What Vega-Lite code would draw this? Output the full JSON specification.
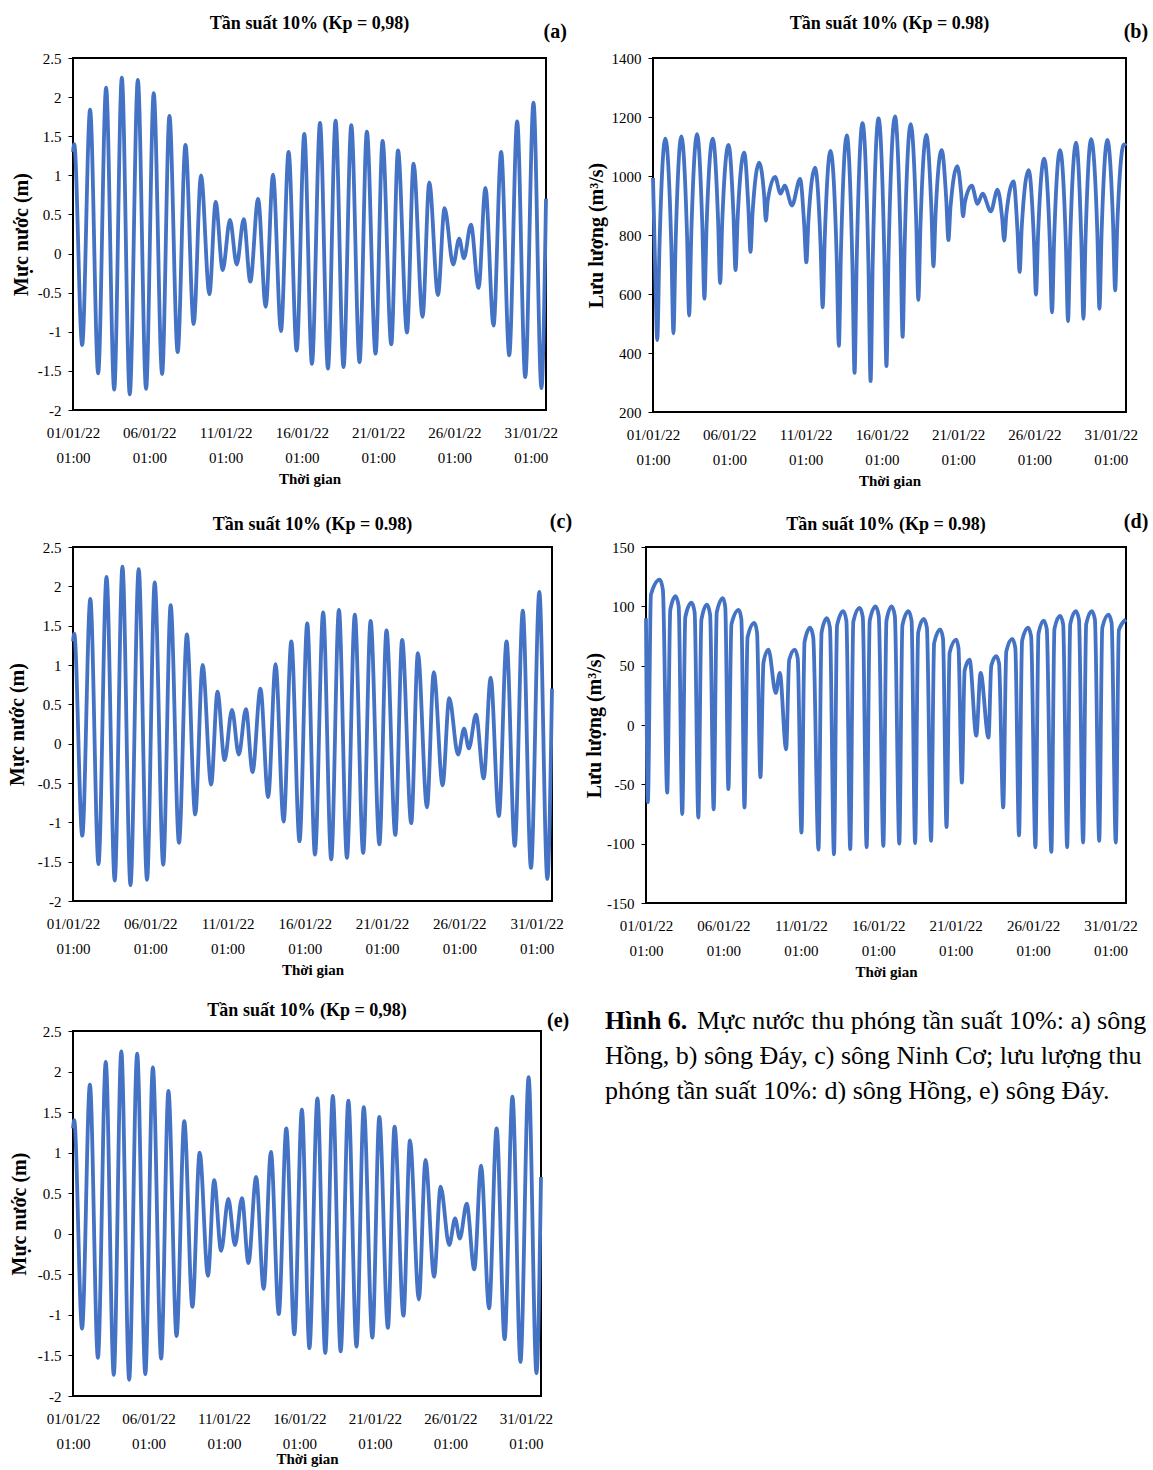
{
  "$schema": "https://vega.github.io/schema/vega-lite/v6.json",
  "background": "white",
  "padding": {"left": 6, "top": 14, "right": 0, "bottom": 0},
  "spacing": 21,
  "datasets": {
    "wl": [{"d":0,"v":1.30},{"d":0.08,"v":1.40},{"d":0.60,"v":-1.17},{"d":1.12,"v":1.84},{"d":1.65,"v":-1.53},{"d":2.17,"v":2.12},{"d":2.70,"v":-1.74},{"d":3.20,"v":2.25},{"d":3.72,"v":-1.80},{"d":4.25,"v":2.22},{"d":4.79,"v":-1.73},{"d":5.29,"v":2.05},{"d":5.84,"v":-1.54},{"d":6.32,"v":1.76},{"d":6.86,"v":-1.26},{"d":7.37,"v":1.39},{"d":7.91,"v":-0.90},{"d":8.39,"v":1.00},{"d":8.94,"v":-0.52},{"d":9.35,"v":0.66},{"d":9.81,"v":-0.21},{"d":10.29,"v":0.43},{"d":10.73,"v":-0.14},{"d":11.19,"v":0.44},{"d":11.62,"v":-0.36},{"d":12.13,"v":0.70},{"d":12.63,"v":-0.68},{"d":13.11,"v":1.01},{"d":13.63,"v":-0.99},{"d":14.13,"v":1.30},{"d":14.66,"v":-1.24},{"d":15.16,"v":1.53},{"d":15.66,"v":-1.41},{"d":16.19,"v":1.67},{"d":16.71,"v":-1.47},{"d":17.21,"v":1.70},{"d":17.73,"v":-1.45},{"d":18.24,"v":1.64},{"d":18.78,"v":-1.39},{"d":19.26,"v":1.56},{"d":19.83,"v":-1.28},{"d":20.29,"v":1.44},{"d":20.86,"v":-1.16},{"d":21.30,"v":1.32},{"d":21.89,"v":-1.01},{"d":22.32,"v":1.15},{"d":22.91,"v":-0.81},{"d":23.35,"v":0.91},{"d":23.92,"v":-0.53},{"d":24.35,"v":0.58},{"d":24.92,"v":-0.14},{"d":25.31,"v":0.19},{"d":25.62,"v":-0.06},{"d":26.08,"v":0.37},{"d":26.58,"v":-0.44},{"d":27.03,"v":0.84},{"d":27.56,"v":-0.92},{"d":28.06,"v":1.30},{"d":28.59,"v":-1.30},{"d":29.11,"v":1.69},{"d":29.64,"v":-1.58},{"d":30.18,"v":1.93},{"d":30.70,"v":-1.72},{"d":31.0,"v":0.70}],
    "qd": [{"d":0,"v":993},{"d":0.14,"v":691},{"d":0.28,"v":444},{"d":0.42,"v":751},{"d":0.81,"v":1127},{"d":1.20,"v":764},{"d":1.34,"v":467},{"d":1.48,"v":767},{"d":1.86,"v":1134},{"d":2.23,"v":800},{"d":2.37,"v":527},{"d":2.51,"v":804},{"d":2.89,"v":1142},{"d":3.23,"v":835},{"d":3.37,"v":584},{"d":3.51,"v":828},{"d":3.92,"v":1127},{"d":4.26,"v":858},{"d":4.40,"v":637},{"d":4.54,"v":848},{"d":4.95,"v":1105},{"d":5.27,"v":872},{"d":5.41,"v":681},{"d":5.55,"v":860},{"d":5.98,"v":1079},{"d":6.25,"v":894},{"d":6.39,"v":743},{"d":6.53,"v":879},{"d":6.96,"v":1045},{"d":7.28,"v":937},{"d":7.40,"v":849},{"d":7.52,"v":916},{"d":8.00,"v":997},{"d":8.36,"v":940},{"d":8.63,"v":967},{"d":9.11,"v":900},{"d":9.64,"v":990},{"d":9.91,"v":834},{"d":10.05,"v":707},{"d":10.19,"v":851},{"d":10.62,"v":1028},{"d":10.98,"v":768},{"d":11.12,"v":555},{"d":11.26,"v":794},{"d":11.63,"v":1085},{"d":12.04,"v":721},{"d":12.18,"v":424},{"d":12.32,"v":745},{"d":12.70,"v":1138},{"d":13.07,"v":695},{"d":13.21,"v":333},{"d":13.35,"v":714},{"d":13.73,"v":1179},{"d":14.12,"v":698},{"d":14.26,"v":305},{"d":14.40,"v":706},{"d":14.78,"v":1195},{"d":15.16,"v":734},{"d":15.30,"v":356},{"d":15.44,"v":737},{"d":15.86,"v":1202},{"d":16.22,"v":791},{"d":16.36,"v":455},{"d":16.50,"v":779},{"d":16.89,"v":1176},{"d":17.25,"v":848},{"d":17.39,"v":580},{"d":17.53,"v":832},{"d":17.92,"v":1139},{"d":18.24,"v":894},{"d":18.38,"v":694},{"d":18.52,"v":871},{"d":18.92,"v":1088},{"d":19.22,"v":920},{"d":19.36,"v":783},{"d":19.50,"v":896},{"d":19.95,"v":1033},{"d":20.20,"v":940},{"d":20.32,"v":863},{"d":20.44,"v":910},{"d":20.89,"v":967},{"d":21.27,"v":906},{"d":21.60,"v":940},{"d":22.14,"v":880},{"d":22.58,"v":954},{"d":22.88,"v":859},{"d":23.02,"v":781},{"d":23.16,"v":871},{"d":23.63,"v":982},{"d":23.89,"v":813},{"d":24.03,"v":675},{"d":24.17,"v":830},{"d":24.62,"v":1020},{"d":24.96,"v":788},{"d":25.10,"v":598},{"d":25.24,"v":805},{"d":25.64,"v":1059},{"d":26.01,"v":772},{"d":26.15,"v":538},{"d":26.29,"v":786},{"d":26.68,"v":1088},{"d":27.06,"v":769},{"d":27.20,"v":508},{"d":27.34,"v":780},{"d":27.73,"v":1113},{"d":28.07,"v":785},{"d":28.21,"v":516},{"d":28.35,"v":790},{"d":28.71,"v":1125},{"d":29.12,"v":809},{"d":29.26,"v":550},{"d":29.40,"v":807},{"d":29.78,"v":1122},{"d":30.15,"v":842},{"d":30.29,"v":612},{"d":30.43,"v":835},{"d":30.86,"v":1107},{"d":31.0,"v":1102}],
    "qh": [{"d":0,"v":90},{"d":0.12,"v":-65},{"d":0.32,"v":110},{"d":0.89,"v":122.5},{"d":1.09,"v":114},{"d":1.37,"v":-57},{"d":1.57,"v":97},{"d":1.91,"v":108.5},{"d":2.11,"v":100},{"d":2.34,"v":-75},{"d":2.54,"v":91},{"d":2.94,"v":103},{"d":3.14,"v":95},{"d":3.38,"v":-78},{"d":3.58,"v":89},{"d":3.94,"v":101.5},{"d":4.14,"v":93},{"d":4.37,"v":-71},{"d":4.57,"v":95},{"d":4.97,"v":107},{"d":5.12,"v":99},{"d":5.32,"v":-54},{"d":5.52,"v":85},{"d":5.99,"v":97},{"d":6.16,"v":89},{"d":6.36,"v":-69.5},{"d":6.56,"v":74},{"d":7.00,"v":86},{"d":7.17,"v":78},{"d":7.39,"v":-44},{"d":7.59,"v":53},{"d":7.91,"v":63.6},{"d":8.38,"v":27},{"d":8.64,"v":44},{"d":9.05,"v":-20.5},{"d":9.25,"v":55},{"d":9.61,"v":63.6},{"d":9.80,"v":56},{"d":10.04,"v":-90.6},{"d":10.24,"v":70},{"d":10.60,"v":82},{"d":10.80,"v":74},{"d":11.14,"v":-105},{"d":11.34,"v":78},{"d":11.68,"v":90},{"d":11.88,"v":82},{"d":12.14,"v":-109},{"d":12.34,"v":84},{"d":12.74,"v":96},{"d":12.94,"v":88},{"d":13.19,"v":-104.6},{"d":13.39,"v":87},{"d":13.80,"v":98.7},{"d":14.00,"v":91},{"d":14.25,"v":-103},{"d":14.45,"v":88},{"d":14.83,"v":100},{"d":15.03,"v":92},{"d":15.33,"v":-102},{"d":15.53,"v":88},{"d":15.87,"v":100},{"d":16.07,"v":92},{"d":16.36,"v":-100},{"d":16.56,"v":84},{"d":16.95,"v":96},{"d":17.15,"v":88},{"d":17.38,"v":-99.5},{"d":17.58,"v":78},{"d":17.94,"v":89.4},{"d":18.14,"v":82},{"d":18.41,"v":-97.6},{"d":18.61,"v":69},{"d":19.00,"v":80.5},{"d":19.18,"v":73},{"d":19.41,"v":-86},{"d":19.61,"v":61},{"d":20.03,"v":72},{"d":20.18,"v":65},{"d":20.40,"v":-48.5},{"d":20.58,"v":46},{"d":20.90,"v":55},{"d":21.33,"v":-9},{"d":21.61,"v":44},{"d":22.12,"v":-10.7},{"d":22.30,"v":50},{"d":22.62,"v":58},{"d":22.80,"v":52},{"d":23.07,"v":-69.5},{"d":23.27,"v":62},{"d":23.66,"v":72.6},{"d":23.85,"v":65},{"d":24.09,"v":-93},{"d":24.29,"v":71},{"d":24.67,"v":82},{"d":24.87,"v":75},{"d":25.15,"v":-103},{"d":25.35,"v":77},{"d":25.68,"v":88},{"d":25.88,"v":81},{"d":26.18,"v":-107},{"d":26.38,"v":81},{"d":26.74,"v":92},{"d":26.94,"v":85},{"d":27.20,"v":-103},{"d":27.40,"v":85},{"d":27.76,"v":96},{"d":27.96,"v":89},{"d":28.23,"v":-99},{"d":28.43,"v":85},{"d":28.79,"v":96},{"d":28.99,"v":89},{"d":29.27,"v":-97.6},{"d":29.47,"v":82},{"d":29.87,"v":93},{"d":30.07,"v":86},{"d":30.34,"v":-99},{"d":30.54,"v":80},{"d":31.0,"v":89}],
    "caption": [{"line":0,"part":"b","text":"Hình 6."},{"line":0,"part":"n0","text":"Mực nước thu phóng tần suất 10%: a) sông"},{"line":1,"part":"n","text":"Hồng, b) sông Đáy, c) sông Ninh Cơ; lưu lượng thu"},{"line":2,"part":"n","text":"phóng tần suất 10%: d) sông Hồng, e) sông Đáy."}]
  },
  "config": {
    "font": "Liberation Serif",
    "view": {"stroke": "black", "strokeWidth": 2},
    "title": {"font": "Liberation Serif", "fontSize": 18, "fontWeight": "bold", "color": "black", "anchor": "middle", "frame": "group"},
    "axis": {"labelFont": "Liberation Serif", "titleFont": "Liberation Serif", "labelColor": "black", "titleColor": "black", "labelFontSize": 15, "grid": false, "domain": false, "tickColor": "black", "labelOverlap": false},
    "axisX": {"ticks": false, "tickSize": 0, "labelPadding": 15, "labelLineHeight": 25, "titleFontSize": 15, "titleFontWeight": "bold", "titlePadding": 6, "labelFlush": false},
    "axisY": {"tickSize": 5, "labelPadding": 7, "titleFontSize": 20, "titleFontWeight": "bold", "titlePadding": 8},
    "text": {"font": "Liberation Serif", "color": "black"}
  },
  "vconcat": [
    {
      "spacing": 17,
      "hconcat": [
        {
          "width": 473, "height": 352,
          "title": {"text": "Tần suất 10% (Kp = 0,98)", "offset": -11},
          "layer": [
            {"data": {"name": "wl"}, "mark": {"type": "line", "interpolate": "monotone", "color": "#4472C4", "strokeWidth": 3.8},
             "encoding": {
               "x": {"field": "d", "type": "quantitative", "title": "Thời gian", "scale": {"domain": [0, 31], "nice": false, "zero": false}, "axis": {"values": [0,5,10,15,20,25,30], "labelExpr": "[timeFormat(datetime(2022, 0, 1 + datum.value, 1), '%d/%m/%y'), '01:00']"}},
               "y": {"field": "v", "type": "quantitative", "title": "Mực nước (m)", "scale": {"domain": [-2, 2.5], "nice": false, "zero": false}, "axis": {"values": [-2,-1.5,-1,-0.5,0,0.5,1,1.5,2,2.5], "labelExpr": "'' + datum.value", "labelOverlap": false, "titlePadding": 6}}
             }},
            {"data": {"values": [{"lab": "(a)"}]}, "mark": {"type": "text", "fontSize": 20, "fontWeight": "bold", "align": "center", "baseline": "middle"},
             "encoding": {
               "x": {"datum": 31.6, "type": "quantitative", "title": "Thời gian", "axis": {"values": [0,5,10,15,20,25,30], "labelExpr": "[timeFormat(datetime(2022, 0, 1 + datum.value, 1), '%d/%m/%y'), '01:00']"}},
               "y": {"datum": 2.83, "type": "quantitative", "title": "Mực nước (m)", "axis": {"values": [-2,-1.5,-1,-0.5,0,0.5,1,1.5,2,2.5], "labelExpr": "'' + datum.value", "labelOverlap": false, "titlePadding": 6}},
               "text": {"field": "lab"}}}
          ]
        },
        {
          "width": 473, "height": 354,
          "title": {"text": "Tần suất 10% (Kp = 0.98)", "offset": -11},
          "layer": [
            {"data": {"name": "qd"}, "mark": {"type": "line", "interpolate": "monotone", "color": "#4472C4", "strokeWidth": 3.8},
             "encoding": {
               "x": {"field": "d", "type": "quantitative", "title": "Thời gian", "scale": {"domain": [0, 31], "nice": false, "zero": false}, "axis": {"values": [0,5,10,15,20,25,30], "labelExpr": "[timeFormat(datetime(2022, 0, 1 + datum.value, 1), '%d/%m/%y'), '01:00']"}},
               "y": {"field": "v", "type": "quantitative", "title": "Lưu lượng (m³/s)", "scale": {"domain": [200, 1400], "nice": false, "zero": false}, "axis": {"values": [200,400,600,800,1000,1200,1400], "labelExpr": "'' + datum.value", "labelOverlap": false, "titlePadding": 5}}
             }},
            {"data": {"values": [{"lab": "(b)"}]}, "mark": {"type": "text", "fontSize": 20, "fontWeight": "bold", "align": "center", "baseline": "middle"},
             "encoding": {
               "x": {"datum": 31.65, "type": "quantitative", "title": "Thời gian", "axis": {"values": [0,5,10,15,20,25,30], "labelExpr": "[timeFormat(datetime(2022, 0, 1 + datum.value, 1), '%d/%m/%y'), '01:00']"}},
               "y": {"datum": 1488, "type": "quantitative", "title": "Lưu lượng (m³/s)", "axis": {"values": [200,400,600,800,1000,1200,1400], "labelExpr": "'' + datum.value", "labelOverlap": false, "titlePadding": 5}},
               "text": {"field": "lab"}}}
          ]
        }
      ]
    },
    {
      "spacing": 9,
      "hconcat": [
        {
          "width": 479, "height": 354,
          "title": {"text": "Tần suất 10% (Kp = 0.98)", "offset": -22},
          "layer": [
            {"data": {"name": "wl"}, "mark": {"type": "line", "interpolate": "monotone", "color": "#4472C4", "strokeWidth": 3.8},
             "encoding": {
               "x": {"field": "d", "type": "quantitative", "title": "Thời gian", "scale": {"domain": [0, 31], "nice": false, "zero": false}, "axis": {"values": [0,5,10,15,20,25,30], "labelExpr": "[timeFormat(datetime(2022, 0, 1 + datum.value, 1), '%d/%m/%y'), '01:00']"}},
               "y": {"field": "v", "type": "quantitative", "title": "Mực nước (m)", "scale": {"domain": [-2, 2.5], "nice": false, "zero": false}, "axis": {"values": [-2,-1.5,-1,-0.5,0,0.5,1,1.5,2,2.5], "labelExpr": "'' + datum.value", "labelOverlap": false, "titlePadding": 10}}
             }},
            {"data": {"values": [{"lab": "(c)"}]}, "mark": {"type": "text", "fontSize": 20, "fontWeight": "bold", "align": "center", "baseline": "middle"},
             "encoding": {
               "x": {"datum": 31.58, "type": "quantitative", "title": "Thời gian", "axis": {"values": [0,5,10,15,20,25,30], "labelExpr": "[timeFormat(datetime(2022, 0, 1 + datum.value, 1), '%d/%m/%y'), '01:00']"}},
               "y": {"datum": 2.82, "type": "quantitative", "title": "Mực nước (m)", "axis": {"values": [-2,-1.5,-1,-0.5,0,0.5,1,1.5,2,2.5], "labelExpr": "'' + datum.value", "labelOverlap": false, "titlePadding": 10}},
               "text": {"field": "lab"}}}
          ]
        },
        {
          "width": 480, "height": 356,
          "title": {"text": "Tần suất 10% (Kp = 0.98)", "offset": -22},
          "layer": [
            {"data": {"name": "qh"}, "mark": {"type": "line", "interpolate": "monotone", "color": "#4472C4", "strokeWidth": 3.8},
             "encoding": {
               "x": {"field": "d", "type": "quantitative", "title": "Thời gian", "scale": {"domain": [0, 31], "nice": false, "zero": false}, "axis": {"values": [0,5,10,15,20,25,30], "labelExpr": "[timeFormat(datetime(2022, 0, 1 + datum.value, 1), '%d/%m/%y'), '01:00']"}},
               "y": {"field": "v", "type": "quantitative", "title": "Lưu lượng (m³/s)", "scale": {"domain": [-150, 150], "nice": false, "zero": false}, "axis": {"values": [-150,-100,-50,0,50,100,150], "labelExpr": "'' + datum.value", "labelOverlap": false, "titlePadding": 2}}
             }},
            {"data": {"values": [{"lab": "(d)"}]}, "mark": {"type": "text", "fontSize": 20, "fontWeight": "bold", "align": "center", "baseline": "middle"},
             "encoding": {
               "x": {"datum": 31.65, "type": "quantitative", "title": "Thời gian", "axis": {"values": [0,5,10,15,20,25,30], "labelExpr": "[timeFormat(datetime(2022, 0, 1 + datum.value, 1), '%d/%m/%y'), '01:00']"}},
               "y": {"datum": 171, "type": "quantitative", "title": "Lưu lượng (m³/s)", "axis": {"values": [-150,-100,-50,0,50,100,150], "labelExpr": "'' + datum.value", "labelOverlap": false, "titlePadding": 2}},
               "text": {"field": "lab"}}}
          ]
        }
      ]
    },
    {
      "spacing": 34,
      "hconcat": [
        {
          "width": 468, "height": 365,
          "title": {"text": "Tần suất 10% (Kp = 0,98)", "offset": -9},
          "layer": [
            {"data": {"name": "wl"}, "mark": {"type": "line", "interpolate": "monotone", "color": "#4472C4", "strokeWidth": 3.8},
             "encoding": {
               "x": {"field": "d", "type": "quantitative", "title": "Thời gian", "scale": {"domain": [0, 31], "nice": false, "zero": false}, "axis": {"values": [0,5,10,15,20,25,30], "labelExpr": "[timeFormat(datetime(2022, 0, 1 + datum.value, 1), '%d/%m/%y'), '01:00']", "titlePadding": 0}},
               "y": {"field": "v", "type": "quantitative", "title": "Mực nước (m)", "scale": {"domain": [-2, 2.5], "nice": false, "zero": false}, "axis": {"values": [-2,-1.5,-1,-0.5,0,0.5,1,1.5,2,2.5], "labelExpr": "'' + datum.value", "labelOverlap": false, "titlePadding": 8}}
             }},
            {"data": {"values": [{"lab": "(e)"}]}, "mark": {"type": "text", "fontSize": 20, "fontWeight": "bold", "align": "center", "baseline": "middle"},
             "encoding": {
               "x": {"datum": 32.13, "type": "quantitative", "title": "Thời gian", "axis": {"values": [0,5,10,15,20,25,30], "labelExpr": "[timeFormat(datetime(2022, 0, 1 + datum.value, 1), '%d/%m/%y'), '01:00']", "titlePadding": 0}},
               "y": {"datum": 2.62, "type": "quantitative", "title": "Mực nước (m)", "axis": {"values": [-2,-1.5,-1,-0.5,0,0.5,1,1.5,2,2.5], "labelExpr": "'' + datum.value", "labelOverlap": false, "titlePadding": 8}},
               "text": {"field": "lab"}}}
          ]
        },
        {
          "width": 548, "height": 105,
          "view": {"stroke": null},
          "data": {"name": "caption"},
          "encoding": {
            "x": {"datum": 0, "type": "quantitative", "scale": {"domain": [0, 1]}, "axis": null},
            "y": {"field": "line", "type": "ordinal", "scale": {"domain": [0, 1, 2]}, "axis": null},
            "text": {"field": "text"}
          },
          "layer": [
            {"transform": [{"filter": "datum.part == 'b'"}], "mark": {"type": "text", "align": "left", "baseline": "middle", "fontSize": 26, "fontWeight": "bold", "dy": -27.5}},
            {"transform": [{"filter": "datum.part == 'n0'"}], "mark": {"type": "text", "align": "left", "baseline": "middle", "fontSize": 26, "dx": 92, "dy": -27.5}},
            {"transform": [{"filter": "datum.part == 'n'"}], "mark": {"type": "text", "align": "left", "baseline": "middle", "fontSize": 26, "dy": -27.5}}
          ]
        }
      ]
    }
  ]
}
